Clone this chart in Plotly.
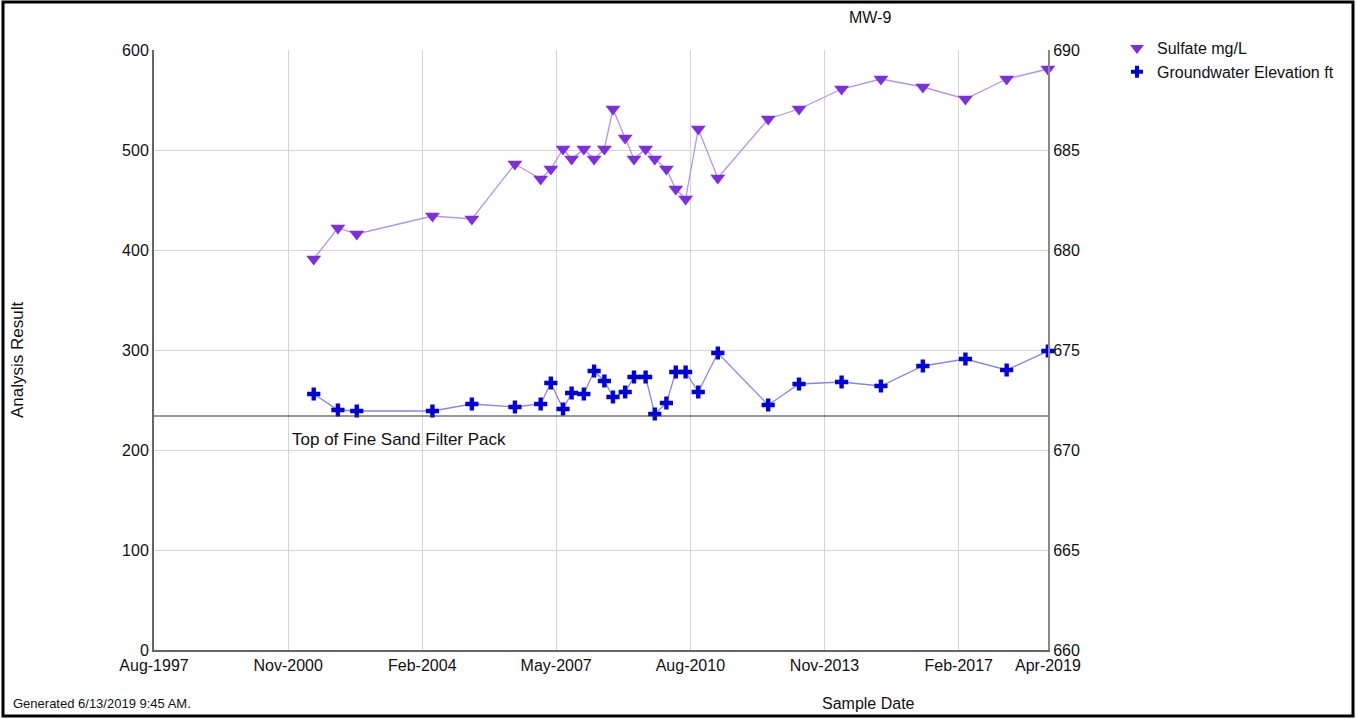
import plotly.graph_objects as go

# ---- data ----
sample_dates = [
    "2001-06-15", "2002-01-15", "2002-07-01", "2004-05-01", "2005-04-15",
    "2006-05-01", "2006-12-15", "2007-03-15", "2007-07-01", "2007-09-15",
    "2008-01-01", "2008-04-01", "2008-07-01", "2008-09-15", "2009-01-01",
    "2009-03-20", "2009-07-01", "2009-09-20", "2010-01-01", "2010-03-25",
    "2010-06-20", "2010-10-10", "2011-04-01", "2012-06-20", "2013-03-20",
    "2014-04-01", "2015-03-15", "2016-03-20", "2017-04-01", "2018-04-01",
    "2019-04-01",
]
sulfate_mg_l = [
    391, 422, 416, 434, 431, 486, 471, 481, 501, 491,
    501, 491, 501, 541, 512, 491, 501, 491, 481, 461,
    451, 521, 472, 531, 541, 561, 571, 563, 551, 571,
    581,
]
gw_elev_ft = [
    672.8, 672.0, 671.95, 671.95, 672.3, 672.15, 672.3, 673.35, 672.05, 672.85,
    672.8, 673.95, 673.45, 672.65, 672.9, 673.65, 673.65, 671.8, 672.35, 673.9,
    673.9, 672.9, 674.85, 672.25, 673.3, 673.4, 673.2, 674.2, 674.55, 674.0,
    674.95,
]
filter_pack_top_ft = 671.7
filter_pack_label = "Top of Fine Sand Filter Pack"

x_tick_vals = ["1997-08-01", "2000-11-01", "2004-02-01", "2007-05-01",
               "2010-08-01", "2013-11-01", "2017-02-01", "2019-04-01"]
x_tick_text = ["Aug-1997", "Nov-2000", "Feb-2004", "May-2007",
               "Aug-2010", "Nov-2013", "Feb-2017", "Apr-2019"]
left_ticks = [0, 100, 200, 300, 400, 500, 600]
right_ticks = [660, 665, 670, 675, 680, 685, 690]

# ---- layout geometry (pixels) ----
W, H = 1356, 719
L, R, T, B = 154, 1048, 50, 650
PW, PH = R - L, B - T

def px(x):
    return (x - L) / PW

def py(y):
    return (B - y) / PH

FONT = "Liberation Sans, Arial, sans-serif"
SUL_MARK = "#7d2fe0"
SUL_LINE = "#b294ec"
GW_MARK = "#0000dd"
GW_LINE = "#8585ee"

fig = go.Figure()

fig.add_trace(go.Scatter(
    x=sample_dates, y=sulfate_mg_l, mode="lines+markers", yaxis="y",
    line=dict(color=SUL_LINE, width=1.3),
    marker=dict(symbol="triangle-down", size=13, color=SUL_MARK),
    showlegend=False, cliponaxis=False, name="Sulfate mg/L",
))
fig.add_trace(go.Scatter(
    x=sample_dates, y=gw_elev_ft, mode="lines+markers", yaxis="y2",
    line=dict(color=GW_LINE, width=1.3),
    marker=dict(symbol="cross", size=11, color=GW_MARK),
    showlegend=False, cliponaxis=False, name="Groundwater Elevation ft",
))
# legend entries (markers only)
fig.add_trace(go.Scatter(
    x=[None], y=[None], mode="markers", name="Sulfate mg/L", legendgroup="a",
    marker=dict(symbol="triangle-down", size=12, color=SUL_MARK),
))
fig.add_trace(go.Scatter(
    x=[None], y=[None], mode="markers", name="Groundwater Elevation ft",
    legendgroup="b", yaxis="y2",
    marker=dict(symbol="cross", size=10, color=GW_MARK),
))

shapes = [
    dict(type="line", xref="paper", x0=0, x1=1, yref="y2",
         y0=filter_pack_top_ft, y1=filter_pack_top_ft,
         line=dict(color="#333333", width=1.2)),
    dict(type="rect", xref="paper", yref="paper",
         x0=px(3), x1=px(1353), y0=py(716), y1=py(2),
         line=dict(color="black", width=3), layer="above"),
]

annotations = [
    dict(text="MW-9", xref="paper", yref="paper", x=px(870), y=py(17),
         xanchor="center", yanchor="middle",
         showarrow=False, font=dict(size=16, color="#111", family=FONT)),
    dict(text=filter_pack_label, xref="paper", yref="paper", x=px(290), y=py(439),
         xanchor="left", yanchor="middle", showarrow=False,
         font=dict(size=17, color="#111", family=FONT)),
    dict(text="Analysis Result", xref="paper", yref="paper", x=px(18), y=py(360),
         xanchor="center", yanchor="middle",
         textangle=-90, showarrow=False, font=dict(size=17, color="#111", family=FONT)),
    dict(text="Sample Date", xref="paper", yref="paper", x=px(868), y=py(703),
         xanchor="center", yanchor="middle",
         showarrow=False, font=dict(size=16, color="#111", family=FONT)),
    dict(text="Generated 6/13/2019 9:45 AM.", xref="paper", yref="paper",
         x=px(11), y=py(703), xanchor="left", yanchor="middle", showarrow=False,
         font=dict(size=13, color="#111", family=FONT)),
]

fig.update_layout(
    width=W, height=H,
    margin=dict(l=L, r=W - R, t=T, b=H - B),
    paper_bgcolor="white", plot_bgcolor="white",
    font=dict(family=FONT, size=16, color="#111"),
    showlegend=True,
    legend=dict(x=px(1117), y=py(31), xanchor="left", yanchor="top",
                font=dict(size=16, family=FONT, color="#111"),
                tracegroupgap=0, itemwidth=30, bgcolor="rgba(0,0,0,0)"),
    xaxis=dict(
        type="date", range=["1997-08-01", "2019-04-02"],
        tickvals=x_tick_vals, ticktext=x_tick_text,
        showgrid=True, gridcolor="#d4d4d4", gridwidth=1,
        showline=True, linecolor="#666666", linewidth=2,
        ticks="", zeroline=False, tickfont=dict(size=16),
    ),
    yaxis=dict(
        range=[0, 600], tickvals=left_ticks,
        showgrid=True, gridcolor="#d4d4d4", gridwidth=1,
        showline=True, linecolor="#666666", linewidth=2,
        ticks="", zeroline=False, tickfont=dict(size=16),
    ),
    yaxis2=dict(
        range=[660, 690], tickvals=right_ticks, overlaying="y", side="right",
        showgrid=False, showline=True, linecolor="#888888", linewidth=2,
        ticks="", zeroline=False, tickfont=dict(size=16),
    ),
    shapes=shapes,
    annotations=annotations,
)

fig.write_html("out.html")
